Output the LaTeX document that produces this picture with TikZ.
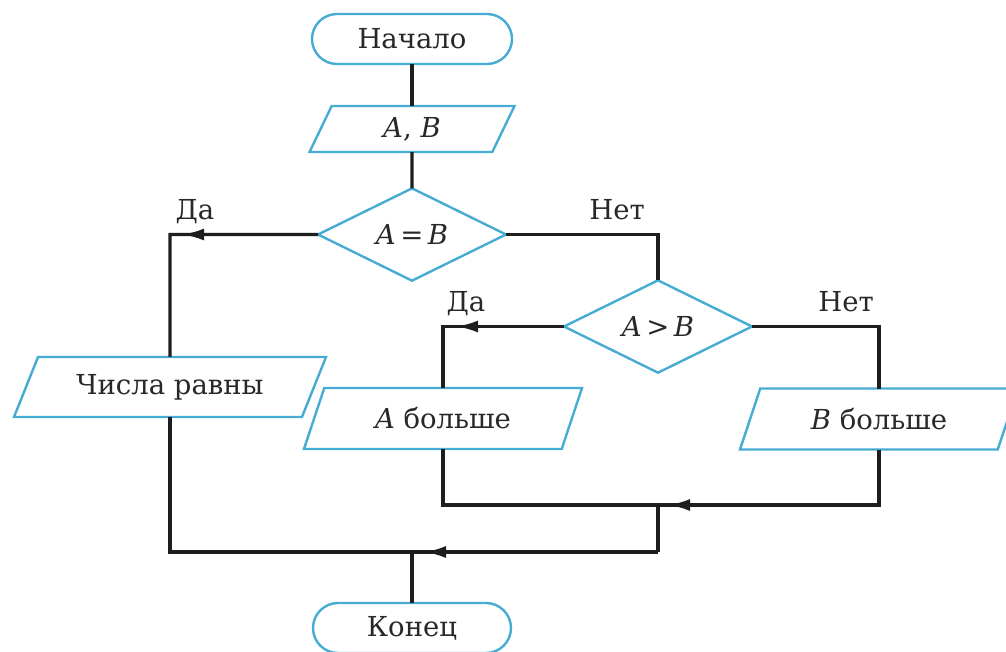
\documentclass[tikz,border=0pt]{standalone}
\usepackage{fontspec}
\setmainfont{DejaVu Serif}
\usetikzlibrary{shapes.geometric,arrows.meta}
\definecolor{shapeblue}{RGB}{70,172,212}
\definecolor{ink}{RGB}{30,30,30}
\definecolor{txt}{RGB}{40,40,40}
\begin{document}
\begin{tikzpicture}[x=1pt,y=-1pt,
 every node/.style={font=\fontsize{27.5}{32}\selectfont, text=txt},
 base/.style={draw=shapeblue, line width=2.4pt, fill=white, inner sep=0pt, outer sep=0pt},
 term/.style={base, minimum width=200pt, minimum height=50pt, rounded corners=25pt},
 io/.style={base, trapezium, trapezium left angle=47, trapezium right angle=133, trapezium stretches body},
 dec/.style={base, diamond, minimum width=188pt, minimum height=88pt},
 conn/.style={draw=ink, line width=3.2pt},
 arr/.style={conn, -{Latex[length=22pt,width=12pt]}},
 lab/.style={inner sep=0pt}
]
\useasboundingbox (0,0) rectangle (1006,651);

\node[term] (start) at (412,39) {Начало};
\node[io, minimum width=205pt, minimum height=46pt] (ab) at (412,129) {\textit{A}, \textit{B}};
\node[dec] (d1) at (412,234.5) {\textit{A}\,=\,\textit{B}};
\node[dec] (d2) at (658,326.5) {\textit{A}\,>\,\textit{B}};
\node[io, minimum width=312pt, minimum height=60pt] (eq) at (170,387) {Числа равны};
\node[io, minimum width=278pt, minimum height=61pt] (ag) at (443,418.5) {\textit{A} больше};
\node[io, minimum width=278pt, minimum height=61pt] (bg) at (879,419) {\textit{B} больше};
\node[term, minimum width=198pt] (end) at (412,628) {Конец};

\node[lab] (l1) at (195,212) {Да};
\node[lab] (l2) at (617,210) {Нет};
\node[lab] (l3) at (466,304) {Да};
\node[lab] (l4) at (846,302) {Нет};

\draw[conn] (start) -- (ab);
\draw[conn] (ab) -- (d1);

\coordinate (c1) at (170,234.5);
\coordinate (a1) at (182,234.5);
\draw[conn] (d1.west) -- (c1) -- (eq.north);
\draw[arr] (d1.west) -- (a1);

\draw[conn] (d1.east) -| (d2.north);

\coordinate (a2) at (456,326.5);
\draw[conn] (d2.west) -| (ag.north);
\draw[arr] (d2.west) -- (a2);
\draw[conn] (d2.east) -| (bg.north);

\coordinate (j2) at (658,505);
\coordinate (a3) at (668,505);
\draw[conn] (bg.south) |- (j2) -| (ag.south);
\draw[arr] (bg.south) |- (a3);
\coordinate (j3) at (658,552);
\draw[conn] (j2) -- (j3);
\coordinate (a4) at (424,552);
\coordinate (j4) at (412,552);
\draw[conn] (j3) -- (j4) -| (eq.south);
\draw[arr] (j3) -- (a4);
\draw[conn] (j4) -- (end.north);
\end{tikzpicture}
\end{document}
